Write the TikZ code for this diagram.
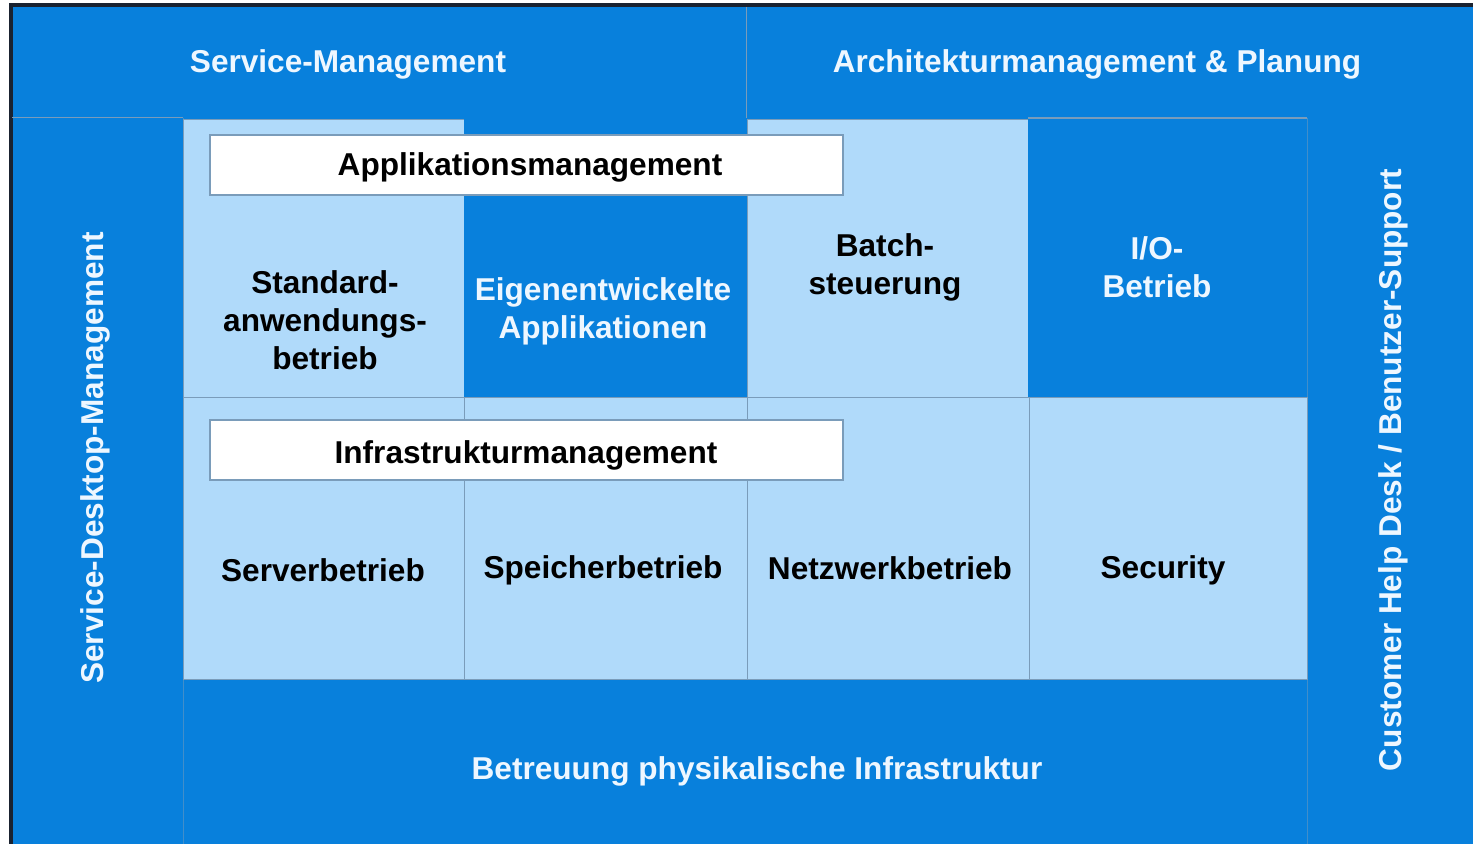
\documentclass[tikz,border=0pt]{standalone}
\usepackage{fontspec}
\setmainfont{Liberation Sans}
\usetikzlibrary{fit}
\definecolor{dblue}{HTML}{0880DC}
\definecolor{lblue}{HTML}{B0DAFA}
\definecolor{sep}{HTML}{7A9CBA}
\definecolor{wtext}{HTML}{EEF7FF}
\definecolor{frame}{HTML}{1A2230}
\begin{document}
\begin{tikzpicture}[x=0.5pt,y=-0.5pt,
  area/.style={inner sep=0pt, outer sep=0pt, draw=sep, line width=0.5pt},
  bluecell/.style={area, fill=dblue},
  lightcell/.style={area, fill=lblue},
  rlabel/.style={font=\fontsize{15.8}{19}\selectfont\bfseries, text=wtext, align=center, inner sep=0pt, rotate=90},
  wlabel/.style={font=\fontsize{15.8}{19}\selectfont\bfseries, text=wtext, align=center, inner sep=0pt, yshift=-1.5pt},
  blabel/.style={font=\fontsize{15.8}{19}\selectfont\bfseries, text=black, align=center, inner sep=0pt, yshift=-1.5pt},
  titlebox/.style={draw=sep, line width=0.6pt, fill=white, inner sep=0pt}
]
\useasboundingbox (0,0) rectangle (1473,844);
\fill[white] (0,0) rectangle (1473,844);
% outer blue ground
\fill[dblue] (12,7) rectangle (1473,844);
\draw[frame, line width=1.6pt] (11,844) -- (11,5) -- (1473,5);

% bands
\node[area, draw=none, fit={(12,7) (746,118)}] (sm) {};
\node[area, draw=none, fit={(746,7) (1473,118)}] (arch) {};
\node[area, draw=none, fit={(12,118) (183,844)}] (sdm) {};
\node[area, draw=none, fit={(1307,118) (1473,844)}] (chd) {};
\node[area, draw=none, fit={(183,679) (1307,844)}] (phys) {};
\draw[sep, line width=0.5pt] (sm.north east) -- (sm.south east);
\draw[sep, line width=0.5pt] (sdm.north west) -- (sdm.north east);
\draw[sep, line width=0.4pt, opacity=0.5] (sdm.north east) -- (sdm.south east);
\draw[sep, line width=0.4pt, opacity=0.5] (chd.north west) -- (chd.south west);

% upper row cells
\node[lightcell, fit={(183,120) (464,398)}] (std) {};
\node[bluecell, draw=none, fit={(464,118) (747,398)}] (eig) {};
\node[lightcell, fit={(747,120) (1028,398)}] (batch) {};
\node[bluecell, draw=none, fit={(1028,118) (1307,398)}] (io) {};
\draw[sep, line width=0.6pt] (io.north west) -- (io.north east);
% lower row cells
\node[lightcell, fit={(183,398) (464,679)}] (srv) {};
\node[lightcell, fit={(464,398) (747,679)}] (spc) {};
\node[lightcell, fit={(747,398) (1029,679)}] (net) {};
\node[lightcell, fit={(1029,398) (1307,679)}] (sec) {};

% title boxes
\node[titlebox, fit={(210,135) (843,195)}] (appbox) {};
\node[titlebox, fit={(210,420) (843,480)}] (infbox) {};

% labels
\node[wlabel] (smL) at (348,61) {Service-Management};
\node[wlabel] (archL) at (1097,61) {Architekturmanagement \& Planung};
\node[rlabel] (sdmL) at (95,458) {Service-Desktop-Management};
\node[rlabel] (chdL) at (1393,470) {Customer Help Desk / Benutzer-Support};
\node[wlabel] (physL) at (757,768) {Betreuung physikalische Infrastruktur};

\node[blabel] (appL) at (530,164) {Applikationsmanagement};
\node[blabel] (infL) at (526,452) {Infrastrukturmanagement};

\node[blabel] (stdL) at (325,317) {Standard-\\anwendungs-\\betrieb};
\node[wlabel] (eigL) at (603,308) {Eigenentwickelte\\Applikationen};
\node[blabel] (batchL) at (885,264) {Batch-\\steuerung};
\node[wlabel] (ioL) at (1157,264) {I/O-\\Betrieb};

\node[blabel] (srvL) at (323,567) {Serverbetrieb};
\node[blabel] (spcL) at (603,567) {Speicherbetrieb};
\node[blabel] (netL) at (890,565) {Netzwerkbetrieb};
\node[blabel] (secL) at (1163,567) {Security};
\end{tikzpicture}
\end{document}
